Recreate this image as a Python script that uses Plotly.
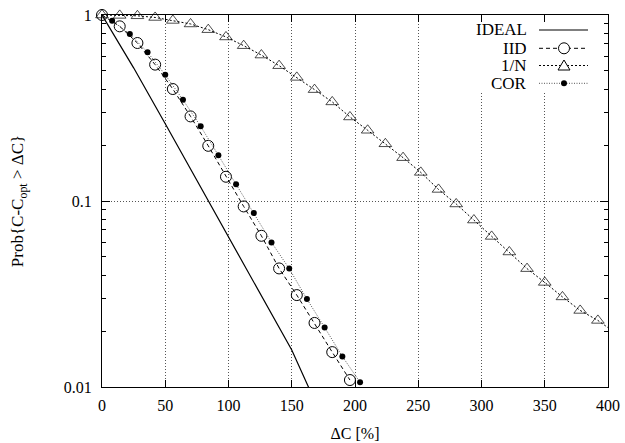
import plotly.graph_objects as go

# ---- data ----
ideal_x = [0, 25, 50, 100, 150, 200]
ideal_p = [1.0, 0.52, 0.26, 0.0645, 0.0158, 0.0028]

iid_x = [0, 14, 28, 42, 56, 70, 84, 98, 112, 126, 140, 154, 168, 182, 196]
iid_p = [1.0, 0.869, 0.707, 0.541, 0.40, 0.285, 0.198, 0.135, 0.0935, 0.065,
         0.0434, 0.0312, 0.0221, 0.0154, 0.0109]

invn_x = [0, 14, 28, 42, 56, 70, 84, 98, 112, 126, 140, 154, 168, 182, 196,
          210, 224, 238, 252, 266, 280, 294, 308, 322, 336, 350, 364, 378, 392, 406]
invn_p = [1.0, 0.995, 0.99, 0.97, 0.935, 0.895, 0.834, 0.762, 0.684, 0.609,
          0.534, 0.462, 0.397, 0.341, 0.283, 0.24, 0.203, 0.171, 0.1425, 0.1154,
          0.0964, 0.079, 0.0645, 0.0532, 0.0433, 0.0365, 0.0305, 0.0258, 0.0228, 0.0195]

cor_x = [8, 22, 36, 50, 64, 78, 92, 106, 120, 134, 148, 162, 176, 190, 204]
cor_p = [0.932, 0.79, 0.63, 0.477, 0.35, 0.252, 0.176, 0.123, 0.0861, 0.0599,
         0.0433, 0.0297, 0.0209, 0.0146, 0.0106]

series_names = ["IDEAL", "IID", "1/N", "COR"]

x_ticks = [0, 50, 100, 150, 200, 250, 300, 350, 400]
y_ticks = [0.01, 0.1, 1]
y_ticktext = ["0.01", "0.1", "1"]
y_minor = [0.02, 0.03, 0.04, 0.05, 0.06, 0.07, 0.08, 0.09,
           0.2, 0.3, 0.4, 0.5, 0.6, 0.7, 0.8, 0.9]

FONT = "Liberation Serif"
W, H = 625, 443
ML, MR, MT, MB = 102, 17, 15, 56
PW, PH = W - ML - MR, H - MT - MB

# series styles (shared by the plotted traces and the legend keys)
styles = {
    "IDEAL": dict(color="black", width=1.2, dash="solid"),
    "IID": dict(color="black", width=1, dash="4px,3px"),
    "1/N": dict(color="black", width=1, dash="2px,2px"),
    "COR": dict(color="#555555", width=1, dash="1px,1.5px"),
}

fig = go.Figure()

fig.add_trace(go.Scatter(
    x=ideal_x, y=ideal_p, mode="lines", name="IDEAL",
    line=styles["IDEAL"],
))
fig.add_trace(go.Scatter(
    x=iid_x, y=iid_p, mode="lines+markers", name="IID",
    line=styles["IID"],
    marker=dict(symbol="circle-open", size=11, color="black", line=dict(width=1)),
    cliponaxis=False,
))
invn_sizes = [11] * (len(invn_x) - 1) + [0]
fig.add_trace(go.Scatter(
    x=invn_x, y=invn_p, mode="lines+markers", name="1/N",
    line=styles["1/N"],
    marker=dict(symbol="triangle-up-open", size=invn_sizes, color="black",
                line=dict(width=1)),
    cliponaxis=False,
))
fig.add_trace(go.Scatter(
    x=cor_x, y=cor_p, mode="lines+markers", name="COR",
    line=styles["COR"],
    marker=dict(symbol="circle", size=6, color="black"),
    cliponaxis=False,
))


# ---- gnuplot-style key (text right-aligned, sample to the right) ----
def px(xp):
    return (xp - ML) / PW


def py(yp):
    return (MT + PH - yp) / PH


key_rows = [30, 48.3, 65.5, 83.3]
key_text_right = 528
key_line = (539, 588)
key_mid = 564

shapes = [dict(type="rect", xref="paper", yref="paper", layer="above",
               x0=px(470), x1=px(592), y0=py(93), y1=py(23),
               fillcolor="white", line=dict(width=0))]
for name, ry in zip(series_names, key_rows):
    fig.add_annotation(
        x=px(key_text_right), y=py(ry), xref="paper", yref="paper",
        xanchor="right", yanchor="middle", text=name, showarrow=False,
        font=dict(family=FONT, size=17, color="black"),
        height=17, valign="middle", borderpad=0,
    )
    shapes.append(dict(type="line", xref="paper", yref="paper", layer="above",
                       x0=px(key_line[0]), x1=px(key_line[1]), y0=py(ry), y1=py(ry),
                       line=styles[name]))
    if name == "IID":
        shapes.append(dict(type="circle", xref="paper", yref="paper", layer="above",
                           x0=px(key_mid - 5.5), x1=px(key_mid + 5.5),
                           y0=py(ry + 5.5), y1=py(ry - 5.5),
                           fillcolor="white", line=dict(color="black", width=1)))
    elif name == "1/N":
        path = "M{:.5f},{:.5f} L{:.5f},{:.5f} L{:.5f},{:.5f} Z".format(
            px(key_mid - 6), py(ry + 4.5), px(key_mid + 6), py(ry + 4.5),
            px(key_mid), py(ry - 5.5))
        shapes.append(dict(type="path", xref="paper", yref="paper", layer="above",
                           path=path, fillcolor="white",
                           line=dict(color="black", width=1)))
    elif name == "COR":
        shapes.append(dict(type="circle", xref="paper", yref="paper", layer="above",
                           x0=px(key_mid - 3), x1=px(key_mid + 3),
                           y0=py(ry + 3), y1=py(ry - 3),
                           fillcolor="black", line=dict(color="black", width=0)))

fig.update_layout(
    width=W, height=H,
    margin=dict(l=ML, r=MR, t=MT, b=MB, autoexpand=False),
    paper_bgcolor="white", plot_bgcolor="white",
    font=dict(family=FONT, size=16, color="black"),
    showlegend=False,
    shapes=shapes,
)

fig.update_xaxes(
    range=[0, 400], tickvals=x_ticks, ticks="inside", ticklen=7, tickwidth=1,
    tickcolor="black", showline=True, linecolor="black", linewidth=1.3,
    mirror="allticks", showgrid=True, gridcolor="#555555", griddash="1px,2px",
    gridwidth=1, zeroline=False, ticklabelstandoff=4, automargin=False,
    title=dict(text="ΔC [%]", font=dict(size=16, family=FONT), standoff=14),
    tickfont=dict(size=16, family=FONT),
)
fig.update_yaxes(
    type="log", range=[-2, 0], tickvals=y_ticks, ticktext=y_ticktext,
    ticks="inside", ticklen=8, tickwidth=1, tickcolor="black",
    showline=True, linecolor="black", linewidth=1.3, mirror="allticks",
    showgrid=True, gridcolor="#555555", griddash="1px,2px", gridwidth=1,
    zeroline=False, ticklabelstandoff=6, automargin=False,
    minor=dict(tickvals=y_minor, ticks="inside", ticklen=4, tickcolor="black",
               showgrid=False),
    title=dict(text="Prob{C-C<sub>opt</sub> &gt; ΔC}", font=dict(size=17, family=FONT),
               standoff=35),
    tickfont=dict(size=16, family=FONT),
)

fig.write_html("out.html", config={"displayModeBar": False},
               post_script="document.body.style.margin='0';")
